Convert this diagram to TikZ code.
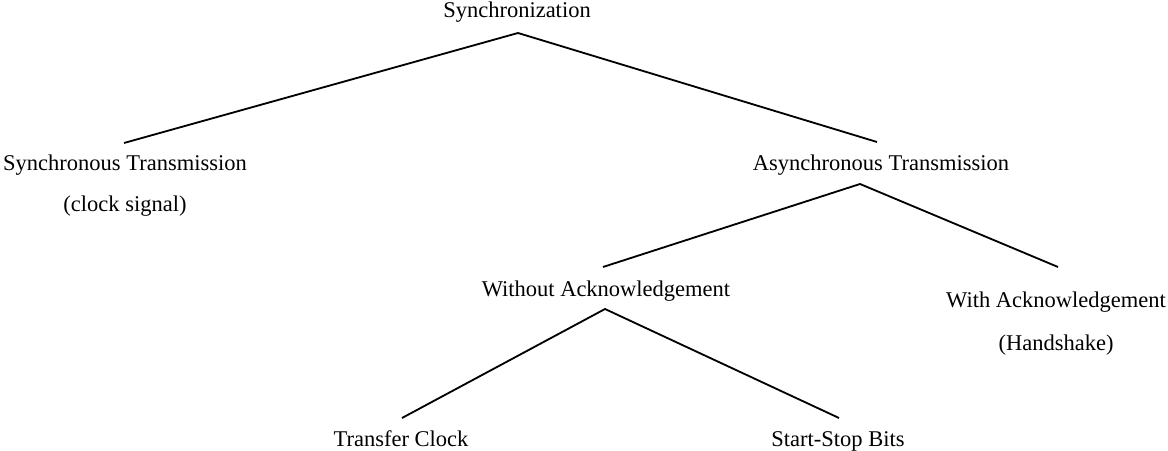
\documentclass[tikz,border=0pt]{standalone}
\usepackage{fontspec}
\setmainfont{Liberation Serif}
\usepackage{tikz}
\usetikzlibrary{positioning}

\begin{document}
\begin{tikzpicture}
[x=0.025cm, y=-0.025cm, lbl/.style={anchor=base,inner sep=0pt,font=\fontsize{16}{19}\selectfont}, branch/.style={line width=1.3pt}];
\useasboundingbox (0,0) rectangle (1168,451);
\node[lbl] (sync) at (517,18) {Synchronization};
\node[lbl] (syncTx) at (125,171) {Synchronous Transmission};
\node[lbl] (clk) at (125,212) {(clock signal)};
\node[lbl] (asyncTx) at (881,171) {Asynchronous Transmission};
\node[lbl] (noAck) at (606,297) {Without Acknowledgement};
\node[lbl] (withAck) at (1056,308) {With Acknowledgement};
\node[lbl] (hs) at (1056,350) {(Handshake)};
\node[lbl] (xferClk) at (401,446) {Transfer Clock};
\node[lbl] (startStop) at (838,446) {Start-Stop Bits};

% branch ends
\coordinate (a0) at (518,33);
\coordinate (a1) at (124,143);
\coordinate (a2) at (877,142);
\coordinate (b0) at (860,184);
\coordinate (b1) at (603,267);
\coordinate (b2) at (1058,267);
\coordinate (c0) at (605,309);
\coordinate (c1) at (402,418);
\coordinate (c2) at (839,418);

\draw[branch] (a1) -- (a0) -- (a2);
\draw[branch] (b1) -- (b0) -- (b2);
\draw[branch] (c1) -- (c0) -- (c2);
\end{tikzpicture}
\end{document}
